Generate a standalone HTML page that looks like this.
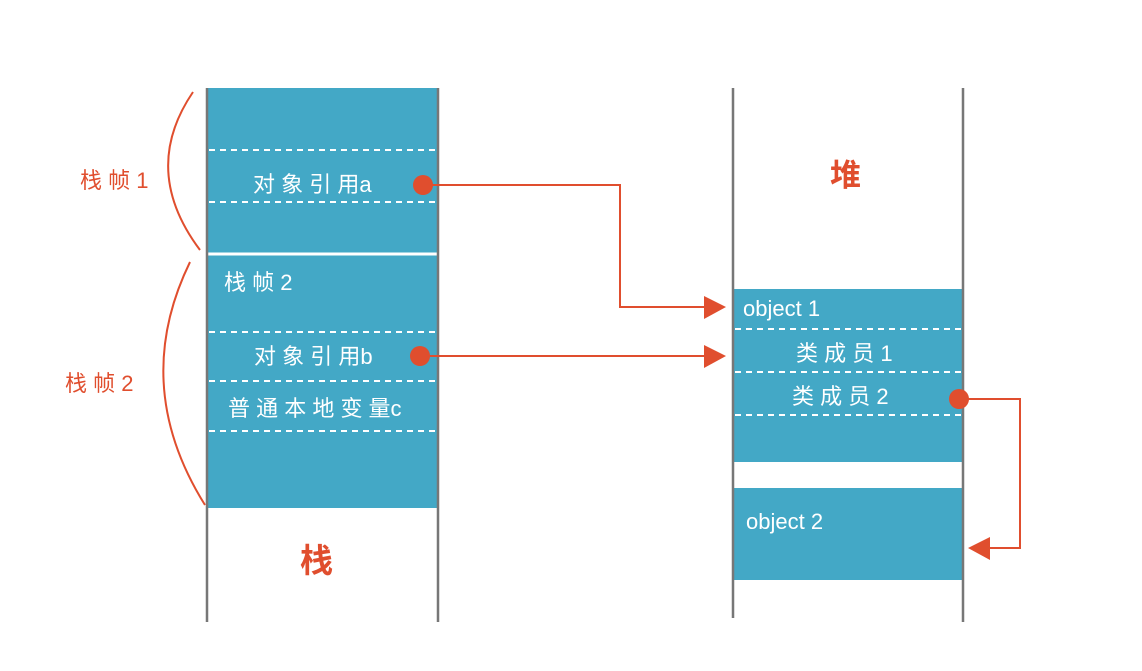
<!DOCTYPE html>
<html><head><meta charset="utf-8"><style>
html,body{margin:0;padding:0;background:#fff;}
svg text{font-family:"Liberation Sans","Noto Sans CJK SC",sans-serif;}
</style></head><body>
<svg width="1142" height="666" viewBox="0 0 1142 666" xmlns="http://www.w3.org/2000/svg">
<rect width="1142" height="666" fill="#fff"/>
<!-- stack -->
<rect x="207" y="88" width="231" height="420" fill="#43a8c6"/>
<line x1="207" y1="254" x2="438" y2="254" stroke="#fff" stroke-width="3"/>
<g stroke="#fff" stroke-width="2" stroke-dasharray="6,5">
<line x1="209" y1="150" x2="437" y2="150"/>
<line x1="209" y1="202" x2="437" y2="202"/>
<line x1="209" y1="332" x2="437" y2="332"/>
<line x1="209" y1="381" x2="437" y2="381"/>
<line x1="209" y1="431" x2="437" y2="431"/>
</g>
<line x1="207" y1="88" x2="207" y2="622" stroke="#777" stroke-width="2.5"/>
<line x1="438" y1="88" x2="438" y2="622" stroke="#777" stroke-width="2.5"/>
<!-- heap -->
<rect x="733" y="289" width="230" height="173" fill="#43a8c6"/>
<rect x="733" y="488" width="230" height="92" fill="#43a8c6"/>
<g stroke="#fff" stroke-width="2" stroke-dasharray="6,5">
<line x1="735" y1="329" x2="962" y2="329"/>
<line x1="735" y1="372" x2="962" y2="372"/>
<line x1="735" y1="415" x2="962" y2="415"/>
</g>
<line x1="733" y1="88" x2="733" y2="618" stroke="#777" stroke-width="2.5"/>
<line x1="963" y1="88" x2="963" y2="622" stroke="#777" stroke-width="2.5"/>
<!-- texts -->
<g fill="#fff" font-size="22">
<text x="253" y="192">对 象 引 用a</text>
<text x="224" y="290">栈 帧 2</text>
<text x="254" y="364">对 象 引 用b</text>
<text x="228" y="416">普 通 本 地 变 量c</text>
<text x="743" y="316">object 1</text>
<text x="796" y="361">类 成 员 1</text>
<text x="792" y="404">类 成 员 2</text>
<text x="746" y="529">object 2</text>
</g>
<g fill="#e04e2e">
<text x="80" y="188" font-size="22">栈 帧 1</text>
<text x="65" y="391" font-size="22">栈 帧 2</text>
<text x="300" y="572" font-size="33" font-weight="bold">栈</text>
<text x="830" y="186" font-size="31" font-weight="bold">堆</text>
</g>
<!-- brackets -->
<g fill="none" stroke="#e04e2e" stroke-width="2">
<path d="M193 92 Q140 170 200 250"/>
<path d="M190 262 Q130 385 205 505"/>
</g>
<!-- connectors -->
<g fill="none" stroke="#e04e2e" stroke-width="2">
<polyline points="423,185 620,185 620,307 708,307"/>
<polyline points="420,356 708,356"/>
<polyline points="959,399 1020,399 1020,548 985,548"/>
</g>
<g fill="#e04e2e">
<circle cx="423" cy="185" r="10"/>
<circle cx="420" cy="356" r="10"/>
<circle cx="959" cy="399" r="10"/>
<polygon points="704,296 726,307 704,319"/>
<polygon points="704,345 726,356 704,368"/>
<polygon points="990,537 968,548 990,560"/>
</g>
</svg>
</body></html>
